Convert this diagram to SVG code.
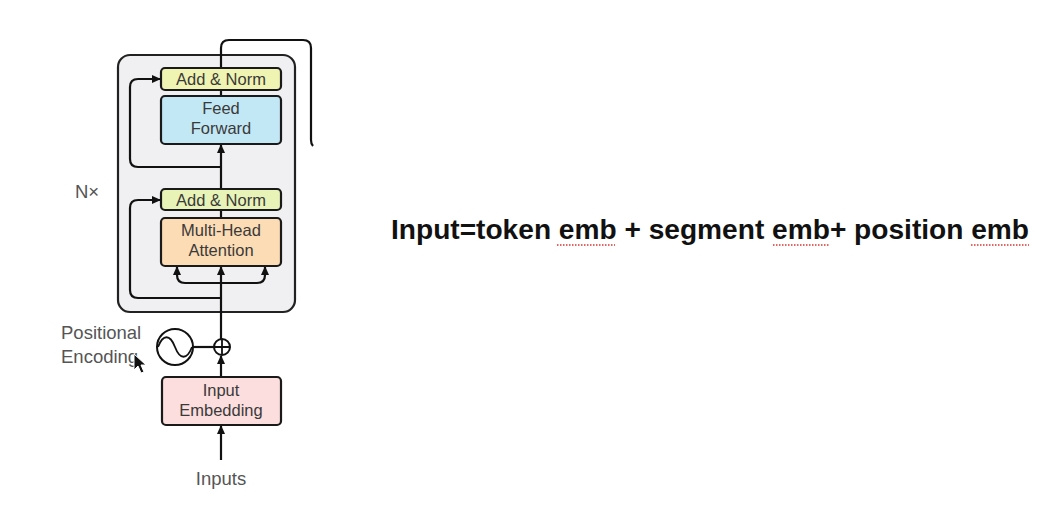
<svg xmlns="http://www.w3.org/2000/svg" width="1058" height="513" viewBox="0 0 1058 513">
<defs>
<marker id="ah" markerUnits="userSpaceOnUse" markerWidth="9" markerHeight="8" refX="8" refY="4" orient="auto">
<path d="M0,0 L9,4 L0,8 z" fill="#111"/>
</marker>
<style>
.box{stroke:#1a1a1a;stroke-width:2.2}
.lbl{font-family:"Liberation Sans",Arial,sans-serif;font-size:16.5px;fill:#3a3a3a;text-anchor:middle}
.side{font-family:"Liberation Sans",Arial,sans-serif;font-size:18.5px;fill:#555}
.ln{fill:none;stroke:#111;stroke-width:2.2}
.ul{stroke:#d33;stroke-width:1.5;stroke-dasharray:1.5 1.5}
</style>
</defs>
<rect width="1058" height="513" fill="#fff"/>
<g id="encoder-stack">
<rect x="118" y="55" width="177" height="257" rx="12" fill="#f0f0f2" stroke="#222" stroke-width="2.2"/>
</g>
<g id="connectors">
<path class="ln" d="M221,68 V48 Q221,40 229,40 H303 Q311,40 311,48 V140 Q311,144 313,146"/>
<line class="ln" x1="221" y1="96" x2="221" y2="90"/>
<line class="ln" x1="221" y1="189" x2="221" y2="145" marker-end="url(#ah)"/>
<path class="ln" d="M221,167 H138 Q130,167 130,159 V87 Q130,79 138,79 H160" marker-end="url(#ah)"/>
<line class="ln" x1="221" y1="218" x2="221" y2="210"/>
<path class="ln" d="M221,298 H138 Q130,298 130,290 V208 Q130,200 138,200 H160" marker-end="url(#ah)"/>
<line class="ln" x1="221" y1="339" x2="221" y2="267" marker-end="url(#ah)"/>
<path class="ln" d="M221,283 H185 Q177,283 177,275 V267" marker-end="url(#ah)"/>
<path class="ln" d="M221,283 H257 Q265,283 265,275 V267" marker-end="url(#ah)"/>
<line class="ln" x1="193" y1="347" x2="214" y2="347"/>
<line class="ln" x1="221" y1="377" x2="221" y2="356" marker-end="url(#ah)"/>
<line class="ln" x1="221" y1="460" x2="221" y2="426" marker-end="url(#ah)"/>
</g>
<g id="add-norm-2">
<rect class="box" x="161" y="68" width="120" height="22" rx="4" fill="#f0f4b2"/>
<text class="lbl" x="221" y="85">Add &amp; Norm</text>
</g>
<g id="feed-forward">
<rect class="box" x="161" y="96" width="120" height="48" rx="4" fill="#c3e8f5"/>
<text class="lbl" x="221" y="114">Feed</text>
<text class="lbl" x="221" y="134">Forward</text>
</g>
<g id="add-norm-1">
<rect class="box" x="161" y="189" width="120" height="21" rx="4" fill="#e8f3b8"/>
<text class="lbl" x="221" y="206">Add &amp; Norm</text>
</g>
<g id="multi-head-attention">
<rect class="box" x="161" y="218" width="120" height="48" rx="4" fill="#fcdcb4"/>
<text class="lbl" x="221" y="236">Multi-Head</text>
<text class="lbl" x="221" y="256">Attention</text>
</g>
<g id="nx">
<text class="side" x="75" y="198" font-size="16">N×</text>
</g>
<g id="positional-encoding">
<circle cx="175" cy="347" r="18" fill="#fff" stroke="#111" stroke-width="2"/>
<path d="M158,347 C163,334 170,334 175,347 C180,360 187,360 192,347" fill="none" stroke="#111" stroke-width="1.8"/>
<text class="side" x="61" y="339">Positional</text>
<text class="side" x="61" y="363">Encoding</text>
</g>
<g id="add">
<circle cx="222" cy="347" r="8" fill="#fff" stroke="#111" stroke-width="2"/>
<path d="M214,347 H230 M222,339 V355" stroke="#111" stroke-width="1.8"/>
</g>
<g id="input-embedding">
<rect class="box" x="162" y="377" width="119" height="48" rx="4" fill="#fcdede"/>
<text class="lbl" x="221" y="396">Input</text>
<text class="lbl" x="221" y="416">Embedding</text>
</g>
<g id="inputs">
<text class="side" x="221" y="485" text-anchor="middle">Inputs</text>
</g>
<g id="cursor">
<path d="M134,354 L134,370 L138,366 L141,373 L144,372 L141,365 L146,365 z" fill="#111" stroke="#fff" stroke-width="1"/>
</g>
<g id="formula">
<text x="391" y="239" font-family="'Liberation Sans',Arial,sans-serif" font-weight="bold" font-size="28" fill="#111" textLength="638" lengthAdjust="spacingAndGlyphs">Input=token emb + segment emb+ position emb</text>
<line class="ul" x1="557" y1="245" x2="615" y2="245"/>
<line class="ul" x1="773" y1="245" x2="830" y2="245"/>
<line class="ul" x1="971" y1="245" x2="1029" y2="245"/>
</g>
</svg>
